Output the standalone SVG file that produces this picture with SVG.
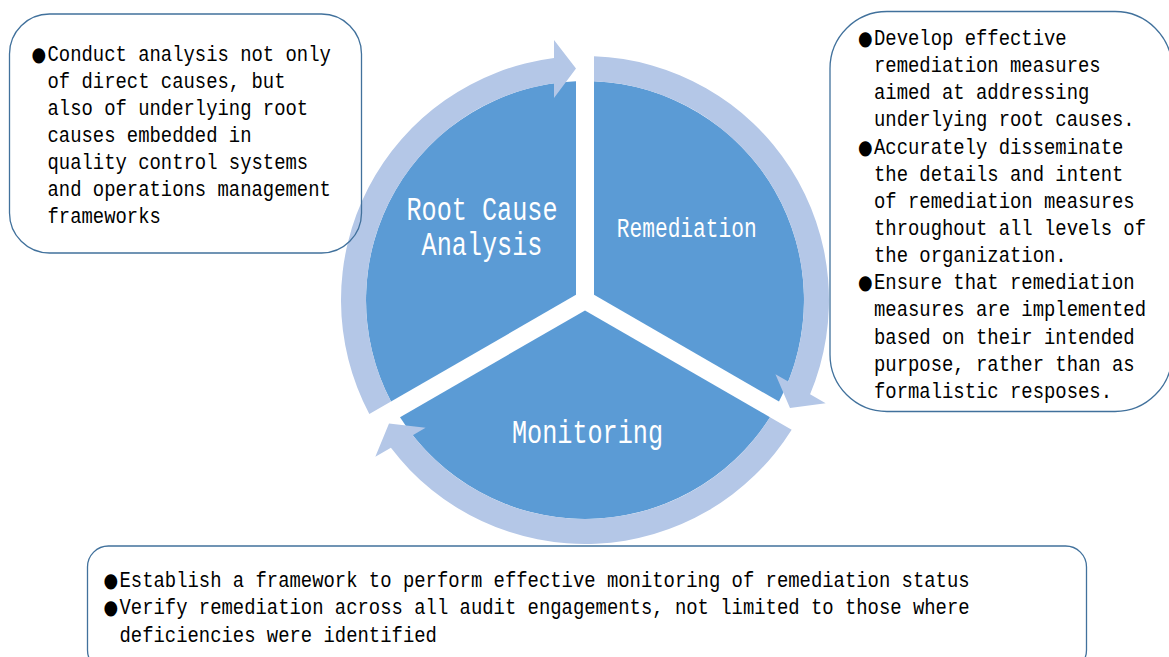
<svg xmlns="http://www.w3.org/2000/svg" width="1169" height="657" viewBox="0 0 1169 657">
  <style>
    .sector { fill: #5B9BD5; }
    .ring { fill: #B4C7E7; }
    .box { fill: none; stroke: #41719C; stroke-width: 1.3; }
    .body { font-family: "Liberation Mono", "DejaVu Sans Mono", monospace; font-size: 22.5px; fill: #000; }
    .bul { font-family: "DejaVu Sans", sans-serif; font-size: 20px; }
    .label { font-family: "Liberation Mono", "DejaVu Sans Mono", monospace; fill: #fff; text-anchor: middle; }
  </style>
  <defs>
    <!-- one 120-degree wedge of the cycle (bearings 0..120), gaps of 18px between wedges -->
    <path id="wedge" d="M9 -5.196 L9 -218.815 A219 219 0 0 1 193.99 101.61 Z"/>
    <!-- curved block arrow running clockwise from the 240deg gap to the 0deg gap -->
    <path id="arc-arrow" d="M-215.67 114.12 A244 244 0 0 1 -31 -242.02 L-31 -260 L-9 -231.5 L-31 -202 L-31 -216.79 A219 219 0 0 0 -193.99 101.61 Z"/>
  </defs>

  <rect width="1169" height="657" fill="#fff"/>

  <!-- cycle wedges -->
  <g id="root-cause-analysis">
    <use href="#wedge" class="sector" transform="translate(585 300) rotate(240)"/>
    <g transform="translate(482 0) scale(0.775 1)">
      <text class="label" x="0" y="220" font-size="32.5">Root Cause</text>
      <text class="label" x="0" y="255" font-size="32.5">Analysis</text>
    </g>
  </g>
  <g id="remediation">
    <use href="#wedge" class="sector" transform="translate(585 300)"/>
    <g transform="translate(686.7 0) scale(0.765 1)">
      <text class="label" x="0" y="236.7" font-size="27.7">Remediation</text>
    </g>
  </g>
  <g id="monitoring">
    <use href="#wedge" class="sector" transform="translate(585 300) rotate(120)"/>
    <g transform="translate(587.5 0) scale(0.775 1)">
      <text class="label" x="0" y="443.3" font-size="32.5">Monitoring</text>
    </g>
  </g>

  <!-- clockwise arrows around the cycle -->
  <g id="connectors">
    <use href="#arc-arrow" class="ring" transform="translate(585 300)"/>
    <use href="#arc-arrow" class="ring" transform="translate(585 300) rotate(120)"/>
    <use href="#arc-arrow" class="ring" transform="translate(585 300) rotate(240)"/>
  </g>

  <!-- note boxes -->
  <g id="note-root-cause">
    <rect class="box" x="9.5" y="14" width="352" height="239" rx="40" ry="40"/>
    <g class="body" transform="translate(47.5 0) scale(0.84 1)">
      <text y="61.5"><tspan class="bul" x="-19">●</tspan><tspan x="0">Conduct analysis not only</tspan></text>
      <text x="0" y="88.5">of direct causes, but</text>
      <text x="0" y="115.5">also of underlying root</text>
      <text x="0" y="142.5">causes embedded in</text>
      <text x="0" y="169.5">quality control systems</text>
      <text x="0" y="196.5">and operations management</text>
      <text x="0" y="223.5">frameworks</text>
    </g>
  </g>

  <g id="note-remediation">
    <rect class="box" x="830" y="11.5" width="342" height="400" rx="57" ry="57"/>
    <g class="body" transform="translate(874 0) scale(0.84 1)">
      <text y="45"><tspan class="bul" x="-19">●</tspan><tspan x="0">Develop effective</tspan></text>
      <text x="0" y="72.15">remediation measures</text>
      <text x="0" y="99.3">aimed at addressing</text>
      <text x="0" y="126.45">underlying root causes.</text>
      <text y="153.6"><tspan class="bul" x="-19">●</tspan><tspan x="0">Accurately disseminate</tspan></text>
      <text x="0" y="180.75">the details and intent</text>
      <text x="0" y="207.9">of remediation measures</text>
      <text x="0" y="235.05">throughout all levels of</text>
      <text x="0" y="262.2">the organization.</text>
      <text y="289.35"><tspan class="bul" x="-19">●</tspan><tspan x="0">Ensure that remediation</tspan></text>
      <text x="0" y="316.5">measures are implemented</text>
      <text x="0" y="343.65">based on their intended</text>
      <text x="0" y="370.8">purpose, rather than as</text>
      <text x="0" y="397.95">formalistic resposes.</text>
    </g>
  </g>

  <g id="note-monitoring">
    <rect class="box" x="87.5" y="546" width="999" height="125" rx="21" ry="21"/>
    <g class="body" transform="translate(119.5 0) scale(0.84 1)">
      <text y="587"><tspan class="bul" x="-19">●</tspan><tspan x="0">Establish a framework to perform effective monitoring of remediation status</tspan></text>
      <text y="614.5"><tspan class="bul" x="-19">●</tspan><tspan x="0">Verify remediation across all audit engagements, not limited to those where</tspan></text>
      <text x="0" y="642">deficiencies were identified</text>
    </g>
  </g>
</svg>
